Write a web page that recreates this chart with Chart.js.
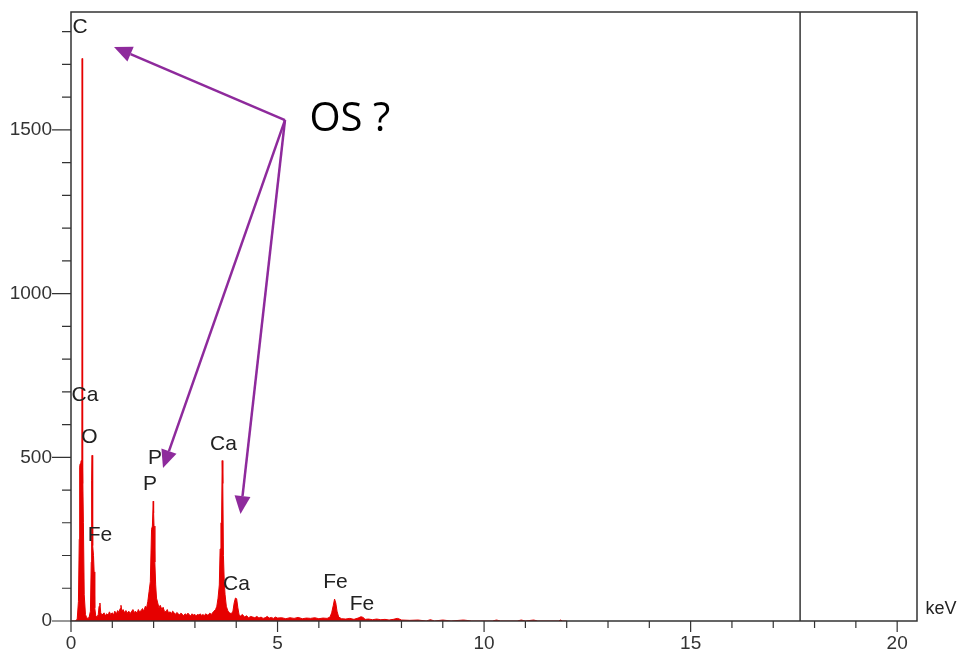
<!DOCTYPE html>
<html>
<head>
<meta charset="utf-8">
<script src="https://cdn.jsdelivr.net/npm/chart.js@4.4.1/dist/chart.umd.min.js"></script>
<style>
  html, body { margin: 0; padding: 0; background: #fff; }
  #wrap { width: 960px; height: 654px; position: relative; }
</style>
</head>
<body>
<div id="wrap"><canvas id="spectrum"></canvas></div>
<script>
// EDS spectrum, energy in keV and counts
const energy = [
  0, 0.1, 0.15, 0.18, 0.2, 0.21, 0.22, 0.24, 0.25, 0.26, 0.265, 0.27, 0.275, 0.28, 0.29, 0.3,
  0.32, 0.35, 0.38, 0.41, 0.44, 0.47, 0.49, 0.5, 0.51, 0.52, 0.53, 0.545, 0.56, 0.575, 0.6,
  0.63, 0.66, 0.68, 0.7, 0.72, 0.75, 0.8, 0.83, 0.86, 0.9, 0.93, 0.96, 1.0, 1.03, 1.06, 1.1,
  1.13, 1.16, 1.19, 1.21, 1.23, 1.26, 1.3, 1.33, 1.36, 1.4, 1.43, 1.46, 1.5, 1.53, 1.56, 1.6,
  1.63, 1.66, 1.7, 1.73, 1.76, 1.8, 1.83, 1.86, 1.89, 1.92, 1.95, 1.97, 1.99, 2.0, 2.01, 2.03,
  2.05, 2.07, 2.1, 2.13, 2.16, 2.2, 2.23, 2.26, 2.3, 2.33, 2.36, 2.4, 2.43, 2.46, 2.5, 2.53,
  2.56, 2.6, 2.63, 2.66, 2.7, 2.73, 2.76, 2.8, 2.83, 2.86, 2.9, 2.93, 2.96, 3.0, 3.03, 3.06,
  3.1, 3.13, 3.16, 3.2, 3.23, 3.26, 3.3, 3.33, 3.36, 3.4, 3.43, 3.46, 3.5, 3.53, 3.56, 3.59,
  3.61, 3.63, 3.645, 3.66, 3.675, 3.69, 3.71, 3.73, 3.76, 3.8, 3.84, 3.88, 3.92, 3.95, 3.98,
  4.01, 4.04, 4.07, 4.1, 4.15, 4.2, 4.25, 4.3, 4.35, 4.4, 4.45, 4.5, 4.55, 4.6, 4.65, 4.7,
  4.75, 4.8, 4.85, 4.9, 4.95, 5.0, 5.1, 5.2, 5.3, 5.4, 5.5, 5.6, 5.7, 5.8, 5.9, 6.0, 6.1,
  6.2, 6.27, 6.31, 6.35, 6.38, 6.41, 6.44, 6.48, 6.55, 6.65, 6.75, 6.85, 6.95, 7.02, 7.07,
  7.12, 7.2, 7.3, 7.4, 7.5, 7.6, 7.7, 7.8, 7.9, 7.95, 8.0, 8.2, 8.4, 8.6, 8.7, 8.8, 9.0,
  9.2, 9.5, 9.7, 10.2, 10.3, 10.4, 10.8, 10.9, 11.0, 11.2, 11.3, 11.8, 11.85, 11.9, 12.0
];
const counts = [
  0, 0, 5, 60, 250, 470, 480, 485, 490, 470, 400, 1718, 420, 480, 470, 300,
  80, 20, 10, 8, 12, 30, 180, 430, 506, 470, 230, 200, 150, 40, 15,
  12, 20, 45, 55, 25, 18, 25, 15, 22, 18, 28, 20, 25, 18, 30, 22,
  32, 26, 38, 48, 30, 35, 25, 32, 24, 30, 22, 28, 35, 26, 30, 24,
  35, 28, 32, 38, 30, 45, 40, 60, 90, 120, 280, 290, 366, 330, 290, 180,
  110, 70, 55, 40, 48, 35, 42, 30, 28, 35, 25, 28, 22, 30, 25, 20,
  26, 22, 18, 24, 20, 16, 22, 18, 24, 20, 15, 22, 18, 20, 16, 20,
  18, 22, 17, 20, 16, 22, 18, 20, 24, 20, 26, 30, 35, 45, 70, 110,
  220, 300, 300, 490, 420, 200, 120, 80, 45, 30, 25, 22, 30, 55, 70,
  68, 40, 18, 15, 20, 12, 16, 10, 14, 12, 10, 14, 9, 12, 8, 10,
  14, 9, 11, 8, 12, 9, 10, 7, 10, 8, 11, 7, 9, 8, 10, 7, 9,
  8, 12, 25, 48, 67, 55, 30, 12, 7, 6, 8, 5, 9, 13, 11,
  5, 6, 4, 6, 4, 5, 3, 5, 8, 6, 3, 2, 3, 0, 4, 0, 3,
  0, 3, 0, 0, 3, 0, 0, 3, 0, 3, 0, 0, 3, 0, 0
];

const xMax = 20.48;
const yMax = 1860;
const xMajor = [0, 5, 10, 15, 20];
const yMajor = [0, 500, 1000, 1500];
const markerKeV = 17.65;

// peak labels: text, keV, counts (centre of the text)
const peakText = ['C', 'Ca', 'O', 'Fe', 'P', 'P', 'Ca', 'Ca', 'Fe', 'Fe'];
const peakKeV = [0.218, 0.339, 0.448, 0.702, 2.033, 1.912, 3.692, 4.006, 6.403, 7.044];
const peakCounts = [1813, 690, 562, 263, 498, 418, 541, 113, 119, 50];

// "OS ?" note and the arrows that leave it
const noteText = 'OS ?';
const noteAt = [6.75, 1530];
const arrowFrom = [5.18, 1530];
const arrowTipKeV = [1.041, 2.227, 4.103];
const arrowTipCounts = [1753, 467, 327];

const points = energy.map((e, i) => ({ x: e, y: counts[i] }));

const frame = {
    id: 'frame',
    afterDraw(chart) {
        const { ctx, chartArea: a, scales: { x, y } } = chart;
        ctx.save();

        // axes and frame
        ctx.strokeStyle = '#333';
        ctx.lineWidth = 1.5;
        ctx.beginPath();
        ctx.moveTo(a.left, a.top);
        ctx.lineTo(a.right, a.top);
        ctx.lineTo(a.right, a.bottom);
        ctx.lineTo(a.left, a.bottom);
        ctx.closePath();
        ctx.stroke();

        const mx = x.getPixelForValue(markerKeV);
        ctx.beginPath();
        ctx.moveTo(mx, a.top);
        ctx.lineTo(mx, a.bottom);
        ctx.stroke();

        // tick marks
        ctx.lineWidth = 1.2;
        ctx.beginPath();
        for (let v = 0; v <= xMax; v += 1) {
            const px = x.getPixelForValue(v);
            ctx.moveTo(px, a.bottom);
            ctx.lineTo(px, a.bottom + (v % 5 === 0 ? 11 : 7));
        }
        for (let v = 0; v <= yMax; v += 100) {
            const py = y.getPixelForValue(v);
            ctx.moveTo(a.left, py);
            ctx.lineTo(a.left - (v % 500 === 0 ? 19 : 9), py);
        }
        ctx.stroke();

        // peak labels
        ctx.fillStyle = '#222';
        ctx.font = '21px "Liberation Sans", Arial, sans-serif';
        ctx.textAlign = 'center';
        ctx.textBaseline = 'middle';
        peakText.forEach((t, i) => {
            ctx.fillText(t, x.getPixelForValue(peakKeV[i]), y.getPixelForValue(peakCounts[i]));
        });

        ctx.font = '18px "Liberation Sans", Arial, sans-serif';
        ctx.fillText('keV', 941, 609);

        // note
        ctx.fillStyle = '#000';
        ctx.font = '40px "Open Sans", sans-serif';
        ctx.fillText(noteText, x.getPixelForValue(noteAt[0]), y.getPixelForValue(noteAt[1]));

        // arrows
        const ox = x.getPixelForValue(arrowFrom[0]);
        const oy = y.getPixelForValue(arrowFrom[1]);
        ctx.strokeStyle = '#8e2a9c';
        ctx.fillStyle = '#8e2a9c';
        ctx.lineWidth = 2.5;
        arrowTipKeV.forEach((k, i) => {
            const tx = x.getPixelForValue(k);
            const ty = y.getPixelForValue(arrowTipCounts[i]);
            const ang = Math.atan2(ty - oy, tx - ox);
            const len = 18, half = 8;
            const bx = tx - len * Math.cos(ang);
            const by = ty - len * Math.sin(ang);
            ctx.beginPath();
            ctx.moveTo(ox, oy);
            ctx.lineTo(bx, by);
            ctx.stroke();
            ctx.beginPath();
            ctx.moveTo(tx, ty);
            ctx.lineTo(bx + half * Math.sin(ang), by - half * Math.cos(ang));
            ctx.lineTo(bx - half * Math.sin(ang), by + half * Math.cos(ang));
            ctx.closePath();
            ctx.fill();
        });

        ctx.restore();
    }
};

const ctx = document.getElementById('spectrum').getContext('2d');
new Chart(ctx, {
    type: 'line',
    data: {
        datasets: [{
            data: points,
            borderColor: '#e60000',
            backgroundColor: '#e60000',
            borderWidth: 1,
            pointRadius: 0,
            fill: 'origin',
            tension: 0
        }]
    },
    options: {
        responsive: true,
        maintainAspectRatio: false,
        animation: false,
        layout: { padding: { top: 12, right: 43, left: 0, bottom: 0 } },
        plugins: { legend: { display: false }, tooltip: { enabled: false } },
        scales: {
            x: {
                type: 'linear',
                min: 0,
                max: xMax,
                afterFit: s => { s.height = 33; s.paddingLeft = 0; s.paddingRight = 0; },
                afterBuildTicks: s => { s.ticks = xMajor.map(v => ({ value: v })); },
                grid: { display: false, drawTicks: false },
                border: { display: false },
                ticks: {
                    padding: 11,
                    color: '#333',
                    font: { family: '"Liberation Sans", Arial, sans-serif', size: 19 },
                    maxRotation: 0,
                    callback: v => String(v)
                }
            },
            y: {
                min: 0,
                max: yMax,
                afterFit: s => { s.width = 71; s.paddingTop = 0; s.paddingBottom = 0; },
                afterBuildTicks: s => { s.ticks = yMajor.map(v => ({ value: v })); },
                grid: { display: false, drawTicks: false },
                border: { display: false },
                ticks: {
                    padding: 19,
                    color: '#333',
                    font: { family: '"Liberation Sans", Arial, sans-serif', size: 19 },
                    callback: v => String(v)
                }
            }
        }
    },
    plugins: [frame]
});
</script>
</body>
</html>
